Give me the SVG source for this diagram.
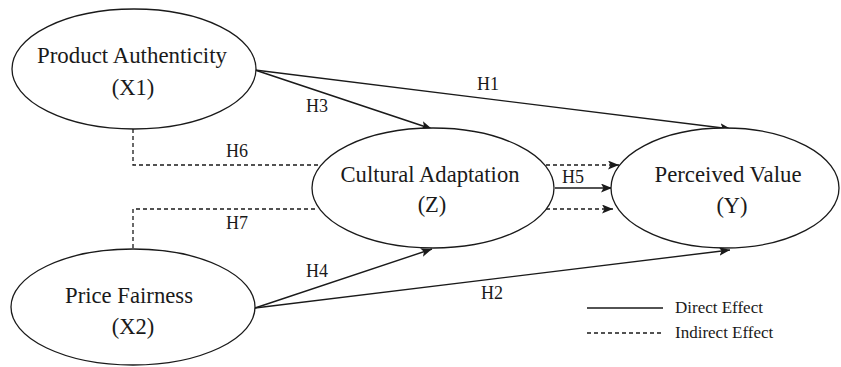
<svg xmlns="http://www.w3.org/2000/svg" width="841" height="367" viewBox="0 0 841 367">
<style>
.node{fill:#fff;stroke:#1a1a1a;stroke-width:1.3}
.t{font-family:"Liberation Serif","Times New Roman",serif;font-size:22.5px;fill:#1a1a1a;text-anchor:middle}
.lbl{font-family:"Liberation Serif","Times New Roman",serif;font-size:18px;fill:#1a1a1a;text-anchor:middle}
.leg{font-family:"Liberation Serif","Times New Roman",serif;font-size:17px;fill:#1a1a1a}
.solid{fill:none;stroke:#1a1a1a;stroke-width:1.4}
.dash{fill:none;stroke:#1a1a1a;stroke-width:1.3;stroke-dasharray:4 3}
</style>
<defs>
<marker id="arr" markerUnits="userSpaceOnUse" markerWidth="12" markerHeight="10" refX="11" refY="4.5" orient="auto">
<path d="M0,0 L11,4.5 L0,9 L2.5,4.5 z" fill="#1a1a1a"/>
</marker>
</defs>
<rect width="841" height="367" fill="#fff"/>
<g id="connectors">
<line class="solid" x1="255" y1="70" x2="731" y2="129" marker-end="url(#arr)"/>
<line class="solid" x1="255" y1="70" x2="432" y2="129" marker-end="url(#arr)"/>
<line class="solid" x1="255" y1="308" x2="432" y2="249" marker-end="url(#arr)"/>
<line class="solid" x1="255" y1="308" x2="730" y2="250" marker-end="url(#arr)"/>
<line class="solid" x1="555" y1="188" x2="612" y2="188" marker-end="url(#arr)"/>
<polyline class="dash" points="133,129 133,165 318,165"/>
<polyline class="dash" points="133,248 133,209 316,209"/>
<line class="dash" x1="546" y1="165" x2="619" y2="165" marker-end="url(#arr)"/>
<line class="dash" x1="546" y1="209" x2="613" y2="209" marker-end="url(#arr)"/>
<text class="lbl" x="488" y="90">H1</text>
<text class="lbl" x="317" y="112">H3</text>
<text class="lbl" x="237" y="157">H6</text>
<text class="lbl" x="237" y="229">H7</text>
<text class="lbl" x="317" y="277">H4</text>
<text class="lbl" x="492" y="299">H2</text>
<text class="lbl" x="573" y="183">H5</text>
</g>
<g id="x1">
<ellipse class="node" cx="134" cy="69" rx="122" ry="60"/>
<text class="t" x="132" y="63" textLength="190" lengthAdjust="spacingAndGlyphs">Product Authenticity</text>
<text class="t" x="133" y="95">(X1)</text>
</g>
<g id="z">
<ellipse class="node" cx="433" cy="188" rx="121" ry="60"/>
<text class="t" x="430" y="182" textLength="179" lengthAdjust="spacingAndGlyphs">Cultural Adaptation</text>
<text class="t" x="432" y="212">(Z)</text>
</g>
<g id="y">
<ellipse class="node" cx="725" cy="188" rx="114" ry="60"/>
<text class="t" x="728" y="182" textLength="147" lengthAdjust="spacingAndGlyphs">Perceived Value</text>
<text class="t" x="732" y="213">(Y)</text>
</g>
<g id="x2">
<ellipse class="node" cx="133" cy="307" rx="122" ry="58"/>
<text class="t" x="129" y="303" textLength="128" lengthAdjust="spacingAndGlyphs">Price Fairness</text>
<text class="t" x="133" y="334">(X2)</text>
</g>
<g id="legend">
<line class="solid" x1="587" y1="308" x2="663" y2="308"/>
<line class="dash" x1="587" y1="333" x2="663" y2="333"/>
<text class="leg" x="675" y="313">Direct Effect</text>
<text class="leg" x="675" y="338">Indirect Effect</text>
</g>
</svg>
